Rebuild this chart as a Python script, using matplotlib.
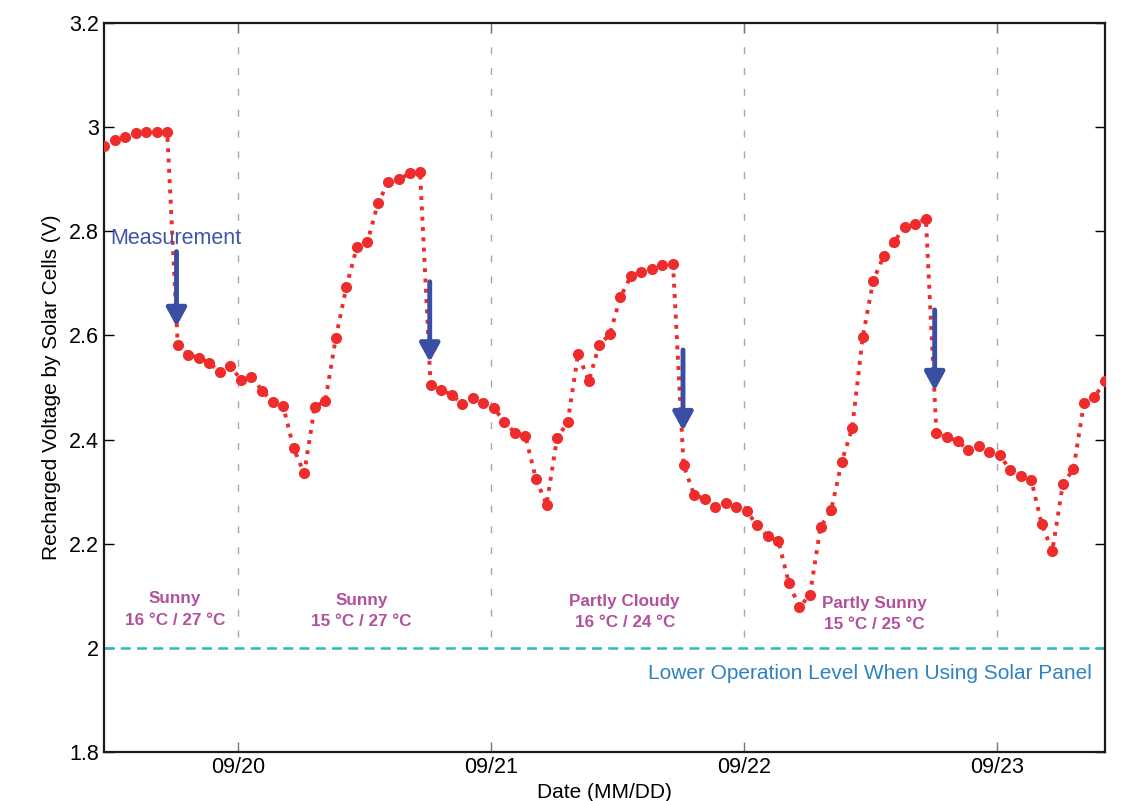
import matplotlib
matplotlib.use("Agg")
import matplotlib.pyplot as plt
import matplotlib.dates as mdates
import pandas as pd
import numpy as np

plt.rcParams['font.family'] = ['Liberation Sans', 'DejaVu Sans']

# ---- data (hourly readings) ----
start_time = "2013-09-19 11:15"
n_hours = 96
voltage = [
    2.964, 2.975, 2.982, 2.989, 2.990, 2.991, 2.991,
    2.582, 2.563, 2.557, 2.547, 2.530, 2.541, 2.515, 2.521, 2.494, 2.473, 2.465,
    2.383, 2.335, 2.463, 2.474, 2.595, 2.693, 2.770, 2.779, 2.854, 2.895, 2.900,
    2.911, 2.913,
    2.504, 2.495, 2.486, 2.468, 2.480, 2.470, 2.461, 2.434, 2.413, 2.406, 2.324,
    2.275, 2.403, 2.433, 2.565, 2.512, 2.582, 2.602, 2.673, 2.714, 2.721, 2.727,
    2.736, 2.737,
    2.351, 2.294, 2.286, 2.271, 2.279, 2.270, 2.262, 2.235, 2.214, 2.205, 2.124,
    2.078, 2.102, 2.232, 2.264, 2.356, 2.422, 2.596, 2.705, 2.753, 2.780, 2.809,
    2.814, 2.824,
    2.412, 2.405, 2.397, 2.380, 2.388, 2.377, 2.370, 2.342, 2.330, 2.322, 2.237,
    2.186, 2.315, 2.343, 2.470, 2.482, 2.512,
]
times = pd.date_range(start_time, periods=n_hours, freq="h")

day_ticks = ["2013-09-20", "2013-09-21", "2013-09-22", "2013-09-23"]
day_labels = ["09/20", "09/21", "09/22", "09/23"]

arrow_times = ["2013-09-19 18:08", "2013-09-20 18:10", "2013-09-21 18:12", "2013-09-22 18:05"]
arrow_top = [2.761, 2.703, 2.572, 2.649]
arrow_tip = [2.617, 2.549, 2.417, 2.494]

weather_times = ["2013-09-19 18:00", "2013-09-20 11:40", "2013-09-21 12:40", "2013-09-22 12:20"]
weather_names = ["Sunny", "Sunny", "Partly Cloudy", "Partly Sunny"]
weather_temps = ["16 °C / 27 °C", "15 °C / 27 °C", "16 °C / 24 °C", "15 °C / 25 °C"]
weather_y = [2.094, 2.091, 2.089, 2.085]

lower_level = 2.0

# ---- figure ----
fig = plt.figure(figsize=(11.35, 8.01), dpi=100)
ax = fig.add_axes([0.0916, 0.0612, 0.882, 0.9101])

tick_dt = pd.to_datetime(day_ticks)
for t in tick_dt:
    ax.axvline(t, ymin=(2.02 - 1.8) / 1.4, ymax=1, color="#a8a8a8",
               linestyle=(0, (5, 10)), linewidth=1.0, zorder=1)

ax.axhline(lower_level, color="#2bbcbc", linestyle=(0, (4, 2.5)), linewidth=1.8, zorder=2)

ax.plot(times, voltage, color="#ee2c2c", linestyle=":", linewidth=2.8,
        marker="o", markersize=8, markeredgewidth=0, zorder=3)

for t, y0, y1 in zip(pd.to_datetime(arrow_times), arrow_top, arrow_tip):
    ax.annotate("", xy=(t, y1), xytext=(t, y0),
                arrowprops=dict(arrowstyle="-|>,head_length=1.1,head_width=0.6",
                                color="#3a4ea3", lw=3.5, shrinkA=0, shrinkB=0),
                zorder=4)

ax.text(pd.Timestamp("2013-09-19 11:50"), 2.787, "Measurement", color="#3e55aa",
        fontsize=15.5, ha="left", va="center", zorder=5)

for t, nm, tp, yy in zip(pd.to_datetime(weather_times), weather_names, weather_temps, weather_y):
    ax.text(t, yy, nm, color="#b2509e", fontsize=12.3, fontweight="bold",
            ha="center", va="center")
    ax.text(t, yy - 0.041, tp, color="#b2509e", fontsize=12.3, fontweight="bold",
            ha="center", va="center")

ax.text(pd.Timestamp("2013-09-23 09:00"), 1.950, "Lower Operation Level When Using Solar Panel",
        color="#2e82c0", fontsize=15, ha="right", va="center")

ax.set_xlim(times[0], times[-1])
ax.set_ylim(1.8, 3.2)
ax.set_xticks(tick_dt)
ax.set_xticklabels(day_labels)
yt = [1.8, 2.0, 2.2, 2.4, 2.6, 2.8, 3.0, 3.2]
ax.set_yticks(yt)
ax.set_yticklabels(["1.8", "2", "2.2", "2.4", "2.6", "2.8", "3", "3.2"])
ax.tick_params(direction="in", length=7, width=1, labelsize=15.5, top=True, right=True)
ax.tick_params(axis="x", colors="#777777", labelcolor="black")
for s in ax.spines.values():
    s.set_linewidth(1.6)
    s.set_color("#1a1a1a")

ax.set_xlabel("Date (MM/DD)", fontsize=15, labelpad=4)
ax.set_ylabel("Recharged Voltage by Solar Cells (V)", fontsize=15, labelpad=6)

fig.savefig("out.png", dpi=100)
